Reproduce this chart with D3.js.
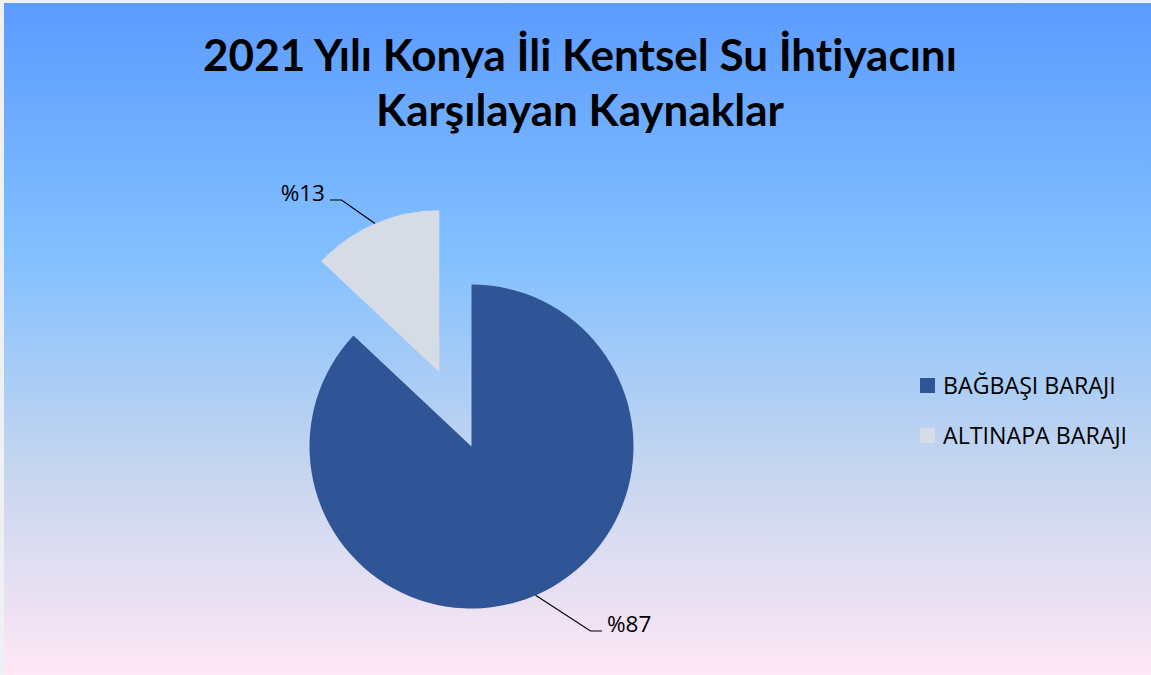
<!DOCTYPE html>
<html>
<head>
<meta charset="utf-8">
<script src="https://cdn.jsdelivr.net/npm/d3@7"></script>
<style>
  body { margin: 0; background: #fff; }
  svg { display: block; }
  text { font-family: "Open Sans", "Noto Sans", sans-serif; font-variant-ligatures: none; }
</style>
</head>
<body>
<div id="chart"></div>
<script>
// data
const categories = ["BAĞBAŞI BARAJI", "ALTINAPA BARAJI"];
const shares = [87, 13];
const sliceLabels = ["%87", "%13"];
const sliceColors = ["#2f5597", "#d6dce5"];
const titleLines = ["2021 Yılı Konya İli Kentsel Su İhtiyacını", "Karşılayan Kaynaklar"];

var width = 1151,
    height = 675;

const cx = 471.5, cy = 446.5;
const radius = 162;
const explode = 81;

var svg = d3.select("#chart")
  .append("svg")
    .attr("width", width)
    .attr("height", height);

// background gradient
const grad = svg.append("defs")
  .append("linearGradient")
    .attr("id", "bg")
    .attr("x1", 0).attr("y1", 0)
    .attr("x2", 0).attr("y2", 1);
[["0%", "#5b9bff"], ["38%", "#83c0ff"], ["68%", "#c3d5ef"], ["100%", "#ffe7f5"]]
  .forEach(s => grad.append("stop").attr("offset", s[0]).attr("stop-color", s[1]));

svg.append("rect")
  .attr("width", width).attr("height", height)
  .attr("fill", "#eef0f4");
svg.append("rect")
  .attr("x", 4).attr("y", 3)
  .attr("width", width - 4).attr("height", height - 3)
  .attr("fill", "url(#bg)");

// title
svg.append("g")
  .selectAll("text")
  .data(titleLines)
  .join("text")
    .attr("x", 580)
    .attr("y", (d, i) => 71 + i * 55)
    .attr("text-anchor", "middle")
    .style("font-family", "Lato, 'Open Sans', sans-serif")
    .style("font-size", "44px")
    .style("font-weight", "bold")
    .attr("fill", "#000")
    .text(d => d);

// pie
const pie = d3.pie().sort(null).value(d => d.value);
const data_ready = pie(categories.map((c, i) => ({name: c, value: shares[i], label: sliceLabels[i], color: sliceColors[i]})));

const arcGenerator = d3.arc().innerRadius(0).outerRadius(radius);

// the small slice is pulled out along its middle angle
function offset(d, i) {
  if (i === 0) return [0, 0];
  const a = (d.startAngle + d.endAngle) / 2;
  return [Math.sin(a) * explode, -Math.cos(a) * explode];
}

const pie_g = svg.append("g")
  .attr("transform", `translate(${cx}, ${cy})`);

pie_g.selectAll("path")
  .data(data_ready)
  .join("path")
    .attr("d", arcGenerator)
    .attr("transform", (d, i) => `translate(${offset(d, i)})`)
    .attr("fill", d => d.data.color);

// leader lines and labels
const leaders = [
  {ang: 2.735, elbow: [119, 184.5], end: [130.5, 184.5], tx: 135.5, anchor: "start"},
  {ang: null, elbow: [-130, -246.5], end: [-141.5, -246.5], tx: -146.5, anchor: "end"}
];

data_ready.forEach((d, i) => {
  const o = offset(d, i);
  const L = leaders[i];
  const a = L.ang !== null ? L.ang : (d.startAngle + d.endAngle) / 2;
  const p0 = [o[0] + Math.sin(a) * radius, o[1] - Math.cos(a) * radius];
  pie_g.append("polyline")
    .attr("points", [p0, L.elbow, L.end].map(p => p.join(",")).join(" "))
    .attr("fill", "none")
    .attr("stroke", "#000")
    .attr("stroke-width", 1.2);
  pie_g.append("text")
    .attr("x", L.tx)
    .attr("y", L.end[1] + 0.5)
    .attr("text-anchor", L.anchor)
    .style("font-size", "22.5px")
    .attr("fill", "#000")
    .text(d.data.label);
});

// legend
const legend = svg.append("g")
  .attr("transform", "translate(920, 378)");
const items = legend.selectAll("g")
  .data(categories)
  .join("g")
    .attr("transform", (d, i) => `translate(0, ${i * 50})`);
items.append("rect")
  .attr("width", 15).attr("height", 15)
  .attr("fill", (d, i) => sliceColors[i]);
items.append("text")
  .attr("x", 23)
  .attr("y", 15.5)
  .style("font-size", "23.2px")
  .attr("fill", "#000")
  .text(d => d);
</script>
</body>
</html>
